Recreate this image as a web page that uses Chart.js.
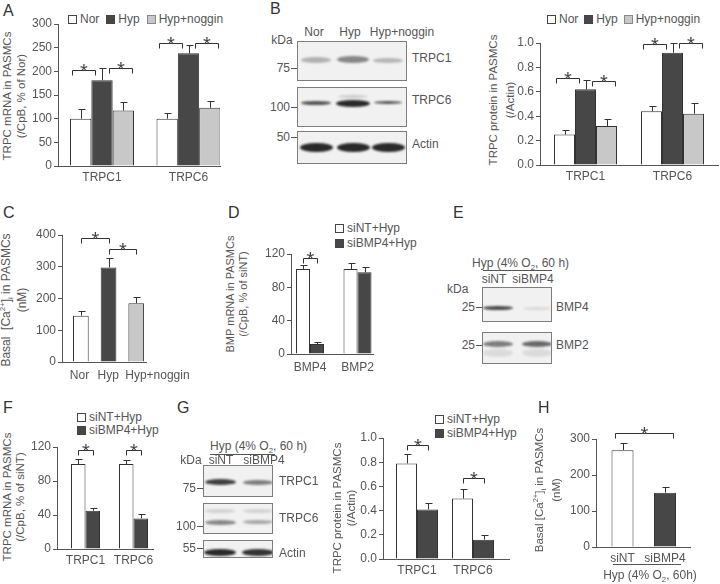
<!DOCTYPE html>
<html>
<head>
<meta charset="utf-8">
<script src="https://cdn.jsdelivr.net/npm/chart.js@4.4.1/dist/chart.umd.min.js"></script>
<style>
  body { margin: 0; background: #fff; }
  #fig { position: relative; width: 720px; height: 584px; overflow: hidden; font-family: "Liberation Sans", Arial, sans-serif; color: #555; }
  .abs { position: absolute; white-space: nowrap; font-size: 12px; line-height: 14px; }
  .letter { font-size: 16px; line-height: 18px; color: #333; }
  .ytitle { position: absolute; white-space: nowrap; text-align: center; transform: translate(-50%, -50%) rotate(-90deg); }
  .blot { position: absolute; box-sizing: border-box; border: 1px solid #7d7d7d; background: #f1f1f1; overflow: hidden; }
  .band { position: absolute; border-radius: 50%; filter: blur(1.2px); }
  .leg { position: absolute; display: flex; align-items: center; font-size: 12px; line-height: 14px; white-space: nowrap; transform: translateY(-50%); }
  .sw { width: 7px; height: 7px; border: 1px solid #444; margin-right: 3px; }
  .rule { position: absolute; height: 0; border-top: 1px solid #555; }
  sup, sub { font-size: 65%; line-height: 0; }
</style>
</head>
<body>
<div id="fig"></div>
<script>
// ---- values ----
const genes = ['TRPC1', 'TRPC6'];
const bmpGenes = ['BMP4', 'BMP2'];
const nogGroups = ['Nor', 'Hyp', 'Hyp+noggin'];
const siGroups = ['siNT', 'siBMP4'];
const siLegend = ['siNT+Hyp', 'siBMP4+Hyp'];

// A: TRPC mRNA (% of Nor)
const aNor = [100, 100], aNorErr = [20, 13];
const aHyp = [181, 238], aHypErr = [25, 18];
const aNog = [117, 123], aNogErr = [18, 14];
const aAxis = [0, 300, 50];
// B: TRPC protein (/Actin)
const bNor = [0.25, 0.44], bNorErr = [0.04, 0.045];
const bHyp = [0.62, 0.92], bHypErr = [0.08, 0.08];
const bNog = [0.32, 0.42], bNogErr = [0.06, 0.09];
const bAxis = [0, 1, 0.2];
// C: basal [Ca2+]i (nM)
const cCa = [146, 298, 185], cCaErr = [15, 28, 19];
const cAxis = [0, 400, 100];
// D: BMP mRNA (% of siNT)
const dNT = [102, 102], dNTErr = [5, 7];
const dKD = [12, 98], dKDErr = [3, 7];
const dAxis = [0, 120, 20];
// F: TRPC mRNA (% of siNT)
const fNT = [100, 100], fNTErr = [6, 5];
const fKD = [45, 36], fKDErr = [3.5, 5];
const fAxis = [0, 120, 20];
// G: TRPC protein (/Actin)
const gNT = [0.79, 0.50], gNTErr = [0.08, 0.08];
const gKD = [0.41, 0.16], gKDErr = [0.05, 0.035];
const gAxis = [0, 1, 0.2];
// H: basal [Ca2+]i (nM)
const hCa = [269, 151], hCaErr = [19, 16];
const hAxis = [0, 300, 100];

// significance brackets: [catA, seriesA, catB, seriesB, y, anchor]
// anchor: 'l' = left edges, 'r' = right edges, 'o' = outer edges, none = bar centres
const aSig = [[0, 0, 0, 1, 203, 'l'], [0, 1, 0, 2, 207, 'r'], [1, 0, 1, 1, 260, 'l'], [1, 1, 1, 2, 260, 'r']];
const bSig = [[0, 0, 0, 1, 0.715, 'l'], [0, 1, 0, 2, 0.69, 'r'], [1, 0, 1, 1, 0.995, 'l'], [1, 1, 1, 2, 1.0, 'r']];
const cSig = [[0, 0, 1, 0, 390], [1, 0, 2, 0, 356]];
const dSig = [[0, 0, 0, 1, 115]];
const fSig = [[0, 0, 0, 1, 117], [1, 0, 1, 1, 117]];
const gSig = [[0, 0, 0, 1, 0.94], [1, 0, 1, 1, 0.67]];
const hSig = [[0, 0, 1, 0, 317, 'o']];

const fill = {
  'Nor': '#ffffff', 'Hyp': '#474747', 'Hyp+noggin': '#c8c8c8',
  'siNT+Hyp': '#ffffff', 'siBMP4+Hyp': '#474747', 'siNT': '#ffffff', 'siBMP4': '#474747'
};

const FONT = '"Liberation Sans", Arial, sans-serif';
const INK = '#555';
const YW = 36, XH = 24, PT = 30, PR = 36;
const fig = document.getElementById('fig');

function bracketEnds(a, b, mode) {
  const aw = a.width / 2, bw = b.width / 2;
  if (mode === 'l') return [a.x - aw + 2, b.x - bw + 4];
  if (mode === 'r') return [a.x + aw - 4, b.x + bw - 2];
  if (mode === 'o') return [a.x - aw + 3, b.x + bw - 3];
  return [a.x, b.x];
}

function drawMarks(chart, series, sig) {
  const ctx = chart.ctx, y = chart.scales.y;
  ctx.save();
  ctx.strokeStyle = '#333';
  ctx.lineWidth = 1;
  series.forEach((s, d) => {
    chart.getDatasetMeta(d).data.forEach((bar, i) => {
      const x = Math.round(bar.x) + 0.5;
      const top = Math.round(y.getPixelForValue(s.data[i] + s.err[i])) + 0.5;
      ctx.beginPath();
      ctx.moveTo(x, bar.y);
      ctx.lineTo(x, top);
      ctx.moveTo(x - 3, top);
      ctx.lineTo(x + 4, top);
      ctx.stroke();
    });
  });
  ctx.fillStyle = '#444';
  ctx.font = '20px ' + FONT;
  ctx.textAlign = 'center';
  sig.forEach(([c1, d1, c2, d2, v, mode]) => {
    const ends = bracketEnds(chart.getDatasetMeta(d1).data[c1], chart.getDatasetMeta(d2).data[c2], mode);
    const x1 = Math.round(ends[0]) + 0.5, x2 = Math.round(ends[1]) + 0.5;
    const yy = Math.round(y.getPixelForValue(v)) + 0.5;
    ctx.beginPath();
    ctx.moveTo(x1, yy + 5);
    ctx.lineTo(x1, yy);
    ctx.lineTo(x2, yy);
    ctx.lineTo(x2, yy + 5);
    ctx.stroke();
    ctx.fillText('*', (x1 + x2) / 2, yy + 7);
  });
  ctx.restore();
}

// g = where the plot box sits on the page (axis corner, group spacing, group width)
function barChart(g, cats, series, axis, sig, xt) {
  xt = xt || {};
  const cv = document.createElement('canvas');
  const w = YW + g.r - g.l + PR, h = PT + g.b - g.t + XH;
  cv.width = w;
  cv.height = h;
  cv.style.cssText = `position:absolute;left:${g.l - YW}px;top:${g.t - PT}px;width:${w}px;height:${h}px`;
  fig.appendChild(cv);
  const tickFont = { family: FONT, size: 12 };
  new Chart(cv, {
    type: 'bar',
    data: {
      labels: cats,
      datasets: series.map(s => ({
        data: s.data,
        backgroundColor: s.color,
        borderColor: '#333',
        borderWidth: 1,
        barPercentage: 1,
        categoryPercentage: g.gw / g.sp
      }))
    },
    options: {
      responsive: false,
      animation: false,
      devicePixelRatio: 1,
      layout: { padding: { top: PT, right: PR, left: 0, bottom: 0 } },
      plugins: { legend: { display: false }, tooltip: { enabled: false } },
      scales: {
        x: {
          offset: true,
          grid: { display: false, drawTicks: false },
          border: { color: INK },
          ticks: {
            color: INK, font: tickFont, padding: xt.pad || 4, autoSkip: false, maxRotation: 0,
            align: xt.align || 'center', labelOffset: xt.shift || 0
          },
          afterBuildTicks: s => {
            s._startValue = -(g.c0 - g.l) / g.sp;
            s._valueRange = (g.r - g.l) / g.sp;
          },
          afterFit: s => { s.height = XH; }
        },
        y: {
          min: axis[0],
          max: axis[1],
          ticks: {
            stepSize: axis[2], color: INK, font: tickFont, padding: 2,
            callback: v => axis[2] < 1 ? v.toFixed(1) : v
          },
          grid: { drawOnChartArea: false, tickLength: 4, color: INK },
          border: { color: INK },
          afterFit: s => { s.width = YW; }
        }
      }
    },
    plugins: [{ id: 'marks', afterDatasetsDraw: c => drawMarks(c, series, sig) }]
  });
}

function ser(name, data, err) { return { data, err, color: fill[name] }; }

function txt(html, x, y, align, cls) {
  const d = document.createElement('div');
  d.className = 'abs' + (cls ? ' ' + cls : '');
  d.innerHTML = html;
  d.style.left = x + 'px';
  d.style.top = y + 'px';
  const tx = align === 'center' ? '-50%' : align === 'right' ? '-100%' : '0';
  d.style.transform = `translate(${tx}, -50%)`;
  fig.appendChild(d);
}

function ytitle(lines, cx, cy, size, lh) {
  const d = document.createElement('div');
  d.className = 'ytitle';
  d.innerHTML = lines.join('<br>');
  d.style.cssText = `left:${cx}px;top:${cy}px;font-size:${size}px;line-height:${lh}px`;
  fig.appendChild(d);
}

function legend(names, x, y, gap) {
  const d = document.createElement('div');
  d.className = 'leg';
  d.style.left = x + 'px';
  d.style.top = y + 'px';
  d.innerHTML = names.map(n =>
    `<span class="sw" style="background:${fill[n]};border-color:${fill[n] === '#c8c8c8' ? '#888' : '#444'}"></span><span style="margin-right:${gap}px">${n}</span>`
  ).join('');
  fig.appendChild(d);
}

function rule(x1, x2, y) {
  const d = document.createElement('div');
  d.className = 'rule';
  d.style.cssText = `left:${x1}px;top:${y}px;width:${x2 - x1}px`;
  fig.appendChild(d);
}

function blot(x, y, w, h, bands) {
  const b = document.createElement('div');
  b.className = 'blot';
  b.style.cssText = `left:${x}px;top:${y}px;width:${w}px;height:${h}px`;
  bands.forEach(([cx, cy, bw, bh, a]) => {
    const e = document.createElement('div');
    e.className = 'band';
    e.style.cssText = `left:${cx - bw / 2}px;top:${cy - bh / 2}px;width:${bw}px;height:${bh}px;background:rgba(30,30,30,${a})`;
    b.appendChild(e);
  });
  fig.appendChild(b);
}

function marker(label, y, xr) {
  txt(label, xr - 7, y, 'right');
  rule(xr - 6, xr, y);
}

// ---- A ----
txt('A', 3, 11, null, 'letter');
legend(nogGroups, 68, 19, 7);
ytitle(['TRPC mRNA in PASMCs', '(/CpB, % of Nor)'], 14, 96, 11.5, 14);
barChart({ l: 58, t: 24, r: 220, b: 166, c0: 102, sp: 86.5, gw: 64 }, genes,
  [ser('Nor', aNor, aNorErr), ser('Hyp', aHyp, aHypErr), ser('Hyp+noggin', aNog, aNogErr)], aAxis, aSig);

// ---- B ----
txt('B', 270, 9, null, 'letter');
txt('Nor', 314, 32, 'center');
txt('Hyp', 350, 32, 'center');
txt('Hyp+noggin', 402, 32, 'center');
txt('kDa', 282, 40, 'center');
blot(297, 41, 110, 40, [[18, 18, 30, 6, 0.3], [55, 17, 32, 7, 0.5], [90, 18, 30, 5, 0.28]]);
blot(297, 87, 110, 40, [[18, 15, 30, 4, 0.75], [55, 8, 30, 3, 0.18], [55, 15, 34, 7, 0.95], [90, 14, 28, 3, 0.75]]);
blot(297, 131, 110, 33, [[18, 15, 33, 9, 0.95], [55, 15, 33, 9, 0.95], [90, 15, 33, 9, 0.95]]);
marker('75', 68, 297);
marker('100', 107, 297);
marker('50', 137, 297);
txt('TRPC1', 412, 58);
txt('TRPC6', 412, 100);
txt('Actin', 412, 144);

legend(nogGroups, 547, 19, 6);
ytitle(['TRPC protein in PASMCs', '(/Actin)'], 502, 100, 11.5, 17);
barChart({ l: 540, t: 43, r: 718, b: 165, c0: 585.5, sp: 87, gw: 63 }, genes,
  [ser('Nor', bNor, bNorErr), ser('Hyp', bHyp, bHypErr), ser('Hyp+noggin', bNog, bNogErr)], bAxis, bSig);

// ---- C ----
txt('C', 3, 213, null, 'letter');
ytitle(['Basal&nbsp; [Ca<sup>2+</sup>]<sub>i</sub> in PASMCs', '(nM)'], 14, 300, 12, 16);
barChart({ l: 62, t: 235, r: 175, b: 362, c0: 87.2, sp: 37, gw: 21 }, nogGroups,
  [{ data: cCa, err: cCaErr, color: nogGroups.map(n => fill[n]) }], cAxis, cSig,
  { pad: 6, align: 'start', shift: -11 });

// ---- D ----
txt('D', 228, 213, null, 'letter');
legend([siLegend[0]], 335, 228, 0);
legend([siLegend[1]], 335, 243, 0);
ytitle(['BMP mRNA in PASMCs', '(/CpB, % of siNT)'], 236, 294, 11, 12.5);
barChart({ l: 291, t: 254, r: 373, b: 354, c0: 310, sp: 47.5, gw: 28 }, bmpGenes,
  [ser('siNT+Hyp', dNT, dNTErr), ser('siBMP4+Hyp', dKD, dKDErr)], dAxis, dSig, { pad: 6 });

// ---- E ----
txt('E', 453, 213, null, 'letter');
txt('Hyp (4% O<sub>2</sub>, 60 h)', 472, 263);
rule(483, 552, 270);
txt('siNT', 494, 279, 'center');
txt('siBMP4', 533, 279, 'center');
txt('kDa', 447, 289);
blot(482, 287, 70, 35, [[15, 20, 30, 4, 0.8], [54, 20, 28, 3, 0.12]]);
blot(482, 332, 70, 32, [[15, 11, 30, 6, 0.55], [54, 11, 30, 6, 0.65], [15, 20, 30, 8, 0.1], [54, 20, 30, 8, 0.1]]);
marker('25', 307, 482);
marker('25', 345, 482);
txt('BMP4', 556, 307);
txt('BMP2', 556, 345);

// ---- F ----
txt('F', 3, 408, null, 'letter');
legend([siLegend[0]], 77, 417, 0);
legend([siLegend[1]], 77, 430, 0);
ytitle(['TRPC mRNA in PASMCs', '(/CpB, % of siNT)'], 14, 497, 11.5, 13);
barChart({ l: 57, t: 447, r: 153, b: 549, c0: 85.5, sp: 48, gw: 29 }, genes,
  [ser('siNT+Hyp', fNT, fNTErr), ser('siBMP4+Hyp', fKD, fKDErr)], fAxis, fSig);

// ---- G ----
txt('G', 177, 408, null, 'letter');
txt('Hyp (4% O<sub>2</sub>, 60 h)', 210, 446);
rule(210, 275, 454);
txt('kDa', 191, 460, 'center');
txt('siNT', 221, 460, 'center');
txt('siBMP4', 264, 460, 'center');
blot(203, 465, 70, 32, [[16, 16, 31, 6, 0.85], [54, 16, 30, 5, 0.55]]);
blot(203, 503, 70, 31, [[16, 7, 30, 4, 0.14], [54, 7, 30, 4, 0.14], [16, 18, 31, 5, 0.5], [54, 18, 30, 4, 0.35]]);
blot(203, 540, 70, 18, [[16, 11, 32, 7, 0.95], [54, 11, 32, 7, 0.9]]);
marker('75', 488, 203);
marker('100', 526, 203);
marker('55', 548, 203);
txt('TRPC1', 279, 481);
txt('TRPC6', 279, 518);
txt('Actin', 279, 553);

legend([siLegend[0]], 435, 419, 0);
legend([siLegend[1]], 435, 433, 0);
ytitle(['TRPC protein in PASMCs', '(/Actin)'], 344, 508, 11.5, 14);
barChart({ l: 383, t: 438, r: 509, b: 559, c0: 417, sp: 56, gw: 42 }, genes,
  [ser('siNT+Hyp', gNT, gNTErr), ser('siBMP4+Hyp', gKD, gKDErr)], gAxis, gSig);

// ---- H ----
txt('H', 538, 408, null, 'letter');
ytitle(['Basal [Ca<sup>2+</sup>]<sub>i</sub> in PASMCs', '(nM)'], 548, 490, 11.5, 17);
barChart({ l: 596, t: 439, r: 690, b: 547, c0: 622.5, sp: 42.5, gw: 22 }, siGroups,
  [{ data: hCa, err: hCaErr, color: siGroups.map(n => fill[n]) }], hAxis, hSig);
rule(613, 681, 564);
txt('Hyp (4% O<sub>2</sub>, 60h)', 650, 575, 'center');
</script>
</body>
</html>
